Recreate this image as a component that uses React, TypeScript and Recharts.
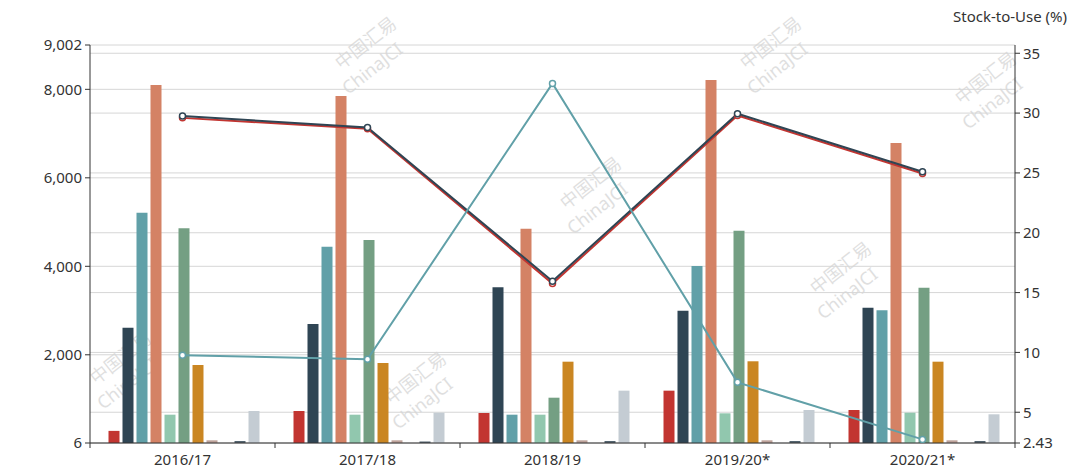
import React from "react";
import {
	Bar,
	CartesianGrid,
	ComposedChart,
	Line,
	XAxis,
	YAxis,
} from "recharts";

const CATEGORIES = ["2016/17", "2017/18", "2018/19", "2019/20*", "2020/21*"];

// bar series (left axis), in palette order
const bar01 = [280, 730, 684, 1189, 752];
const bar02 = [2612, 2696, 3525, 2997, 3065];
const bar03 = [5212, 4443, 646, 4007, 3006];
const bar04 = [8098, 7849, 4850, 8211, 6787];
const bar05 = [646, 646, 646, 677, 691];
const bar06 = [4859, 4595, 1030, 4805, 3517];
const bar07 = [1769, 1814, 1844, 1853, 1844];
const bar08 = [67, 67, 67, 67, 67];
const bar09 = [6, 6, 6, 6, 6];
const bar10 = [51, 40, 51, 51, 51];
const bar11 = [729, 691, 1189, 752, 655];

// stock-to-use lines (right axis, %)
const ratio1 = [29.6, 28.7, 15.75, 29.8, 24.95];
const ratio2 = [29.75, 28.8, 15.95, 29.95, 25.1];
const ratio3 = [9.77, 9.43, 32.48, 7.5, 2.73];

const LEFT_TICKS = [6, 2000, 4000, 6000, 8000, 9002];
const RIGHT_TICKS = [2.43, 5, 10, 15, 20, 25, 30, 35];

const PALETTE = [
	"#c23531",
	"#2f4554",
	"#61a0a8",
	"#d48265",
	"#91c7ae",
	"#749f83",
	"#ca8622",
	"#bda29a",
	"#6e7074",
	"#546570",
	"#c4ccd3",
];

const BARS = [bar01, bar02, bar03, bar04, bar05, bar06, bar07, bar08, bar09, bar10, bar11];
const LINES = [ratio1, ratio2, ratio3];

const data = CATEGORIES.map((cat, i) => {
	const row: Record<string, string | number> = { cat };
	BARS.forEach((s, k) => (row[`b${k}`] = s[i]));
	LINES.forEach((s, k) => (row[`r${k}`] = s[i]));
	return row;
});

const WIDTH = 1075;
const HEIGHT = 470;
const LEFT_W = 90;
const RIGHT_W = 60;
const BAND = (WIDTH - LEFT_W - RIGHT_W) / CATEGORIES.length;
const FONT = '"Noto Sans", sans-serif';
const FS = 15;
const AXIS = "#333";

const XTick = (props: any) => {
	const { x, y, payload } = props;
	const half = BAND / 2;
	return (
		<g>
			<line x1={x - half} x2={x - half} y1={y - 12} y2={y - 7} stroke={AXIS} />
			{payload.index === CATEGORIES.length - 1 && (
				<line x1={x + half} x2={x + half} y1={y - 12} y2={y - 7} stroke={AXIS} />
			)}
			<text
				x={x}
				y={y}
				dy="0.68em"
				textAnchor="middle"
				fill={AXIS}
				fontSize={FS}
				fontFamily={FONT}
			>
				{payload.value}
			</text>
		</g>
	);
};

// faint watermark positions
const marks = [
	[345, 75],
	[570, 215],
	[750, 75],
	[965, 110],
	[100, 390],
	[395, 410],
	[820, 300],
];

const Watermark = () => (
	<svg
		width={WIDTH}
		height={HEIGHT}
		style={{ position: "absolute", left: 0, top: 0 }}
	>
		{marks.map(([x, y], i) => (
			<g key={i} transform={`translate(${x},${y}) rotate(-38)`} opacity={0.3}>
				<text x={0} y={-6} fontSize={18} fill="#999" fontFamily='"Noto Sans CJK SC", sans-serif'>
					中国汇易
				</text>
				<text x={-10} y={18} fontSize={18} fill="#999" fontFamily={FONT}>
					ChinaJCI
				</text>
			</g>
		))}
	</svg>
);

export default function App() {
	return (
		<div
			style={{
				position: "absolute",
				left: 0,
				top: 0,
				width: WIDTH,
				height: HEIGHT,
				background: "#fff",
				fontFamily: FONT,
			}}
		>
			<Watermark />
			<div
				style={{
					position: "absolute",
					left: 953,
					top: 6,
					fontSize: FS,
					color: AXIS,
					whiteSpace: "nowrap",
				}}
			>
				Stock-to-Use (%)
			</div>
			<div style={{ position: "absolute", left: 0, top: 0 }}>
				<ComposedChart
					width={WIDTH}
					height={HEIGHT}
					data={data}
					margin={{ top: 45, right: 0, bottom: 0, left: 0 }}
					barCategoryGap="10%"
					barGap={3}
				>
					<CartesianGrid
						yAxisId="left"
						vertical={false}
						stroke="#d6d6d6"
						horizontalValues={LEFT_TICKS}
					/>
					<CartesianGrid
						yAxisId="right"
						vertical={false}
						stroke="#d6d6d6"
						horizontalValues={RIGHT_TICKS}
					/>
					<XAxis
						dataKey="cat"
						height={27}
						tickLine={false}
						tickSize={5}
						tickMargin={7}
						stroke={AXIS}
						tick={<XTick />}
						interval={0}
					/>
					<YAxis
						yAxisId="left"
						type="number"
						width={LEFT_W}
						domain={[6, 9002]}
						ticks={LEFT_TICKS}
						interval={0}
						allowDataOverflow
						tickSize={5}
						tickMargin={3}
						stroke={AXIS}
						tick={{ fill: AXIS, fontSize: FS, fontFamily: FONT }}
						tickFormatter={(v: number) => v.toLocaleString("en-US")}
					/>
					<YAxis
						yAxisId="right"
						orientation="right"
						type="number"
						width={RIGHT_W}
						domain={[2.43, 35.69]}
						ticks={RIGHT_TICKS}
						interval={0}
						allowDataOverflow
						tickSize={5}
						tickMargin={3}
						stroke={AXIS}
						tick={{ fill: AXIS, fontSize: FS, fontFamily: FONT }}
					/>
					{BARS.map((_, k) => (
						<Bar
							key={`b${k}`}
							yAxisId="left"
							dataKey={`b${k}`}
							fill={PALETTE[k]}
							isAnimationActive={false}
						/>
					))}
					{LINES.map((_, k) => (
						<Line
							key={`r${k}`}
							yAxisId="right"
							dataKey={`r${k}`}
							stroke={PALETTE[k]}
							strokeWidth={2}
							dot={{ r: 3, fill: "#fff", stroke: PALETTE[k], strokeWidth: 1.5 }}
							isAnimationActive={false}
						/>
					))}
				</ComposedChart>
			</div>
		</div>
	);
}
